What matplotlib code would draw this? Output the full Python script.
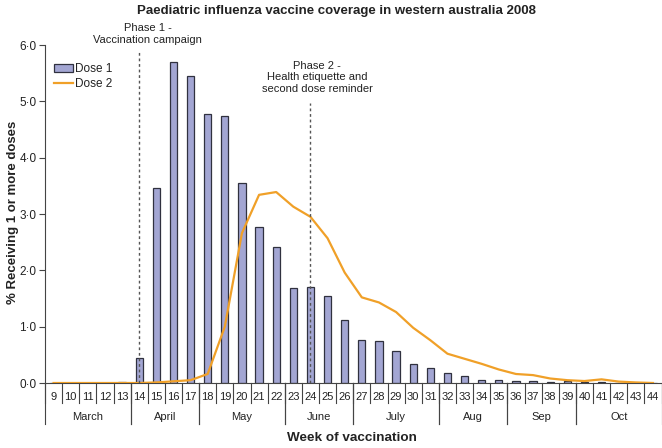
import matplotlib
matplotlib.use("Agg")
import matplotlib.pyplot as plt
from matplotlib.patches import Patch
from matplotlib.lines import Line2D

plt.rcParams['font.family'] = ['Liberation Sans', 'DejaVu Sans']

weeks = list(range(9, 45))
dose1 = [0, 0, 0, 0, 0.02, 0.45, 3.46, 5.70, 5.45, 4.78, 4.74, 3.55, 2.77, 2.42,
         1.68, 1.70, 1.54, 1.11, 0.77, 0.74, 0.56, 0.34, 0.26, 0.18, 0.12, 0.06,
         0.05, 0.035, 0.035, 0.02, 0.03, 0.01, 0.01, 0.005, 0, 0]
dose2 = [0, 0, 0, 0, 0, 0.0, 0.01, 0.03, 0.05, 0.16, 1.0, 2.66, 3.34, 3.39,
         3.13, 2.95, 2.57, 1.96, 1.52, 1.43, 1.26, 0.98, 0.76, 0.52, 0.43, 0.34,
         0.24, 0.16, 0.14, 0.08, 0.05, 0.035, 0.065, 0.025, 0.01, 0]
months = ["March", "April", "May", "June", "July", "Aug", "Sep", "Oct"]
month_start = [9, 14, 18, 23, 27, 32, 36, 40]
month_end = [13, 17, 22, 26, 31, 35, 39, 44]
yticks = [0, 1, 2, 3, 4, 5, 6]
phase_weeks = [14, 24]
phase_texts = ["Phase 1 -\nVaccination campaign",
               "Phase 2 -\nHealth etiquette and\nsecond dose reminder"]

W, H = 662, 448
fig = plt.figure(figsize=(W / 100, H / 100), dpi=100)
ax = fig.add_axes([45 / W, 1 - 383 / H, 616.5 / W, 338 / H])

txt = '#222222'
bar_fc = '#a3a6d3'
bar_ec = '#30313f'
line_c = '#f0a028'

idx = list(range(len(weeks)))
ax.bar(idx, dose1, width=0.42, color=bar_fc, edgecolor=bar_ec, linewidth=0.9, zorder=2)
ax.plot(idx, dose2, color=line_c, linewidth=1.6, zorder=3)

ax.set_xlim(-0.5, len(weeks) - 0.5)
ax.set_ylim(0, 6.0)
ax.set_xticks([])
ax.set_yticks(yticks)
ax.set_yticklabels([f"{v}\u00b70" for v in yticks], fontsize=8.5, color=txt)
ax.tick_params(axis='y', direction='out', length=4, width=0.8, color='#444444', pad=2)
for s in ['top', 'right']:
    ax.spines[s].set_visible(False)
for s in ['left', 'bottom']:
    ax.spines[s].set_color('#444444')
    ax.spines[s].set_linewidth(0.8)

# phase lines
tops = [5.876, 4.97]
for w, top in zip(phase_weeks, tops):
    i = weeks.index(w)
    ax.plot([i, i], [0, top], color='#555555', linestyle=(0, (2, 2)), linewidth=1.0, zorder=4)

fig.text(147.5 / W, 1 - 34 / H, phase_texts[0], ha='center', va='center',
         fontsize=8, color=txt, linespacing=1.2)
fig.text(317 / W, 1 - 77.5 / H, phase_texts[1], ha='center', va='center',
         fontsize=8, color=txt, linespacing=1.2)

# bottom category labels
xt = ax.get_xaxis_transform()
ah = 338.0
for i, w in enumerate(weeks):
    ax.text(i, -14 / ah, str(w), transform=xt, ha='center', va='center',
            fontsize=8, color=txt)
for k in range(len(weeks) + 1):
    ax.plot([k - 0.5, k - 0.5], [0, -20 / ah], transform=xt, color='#444444',
            linewidth=0.8, clip_on=False)
for m, s, e in zip(months, month_start, month_end):
    a = weeks.index(s) - 0.5
    b = weeks.index(e) + 0.5
    ax.text((a + b) / 2, -34 / ah, m, transform=xt, ha='center', va='center',
            fontsize=8, color=txt)
    for xx in (a, b):
        ax.plot([xx, xx], [0, -41 / ah], transform=xt, color='#444444',
                linewidth=0.8, clip_on=False)

fig.text(352 / W, 1 - 438 / H, "Week of vaccination", ha='center', va='center',
         fontsize=9.7, fontweight='bold', color=txt)
fig.text(13 / W, 1 - 212 / H, "% Receiving 1 or more doses", ha='center', va='center',
         rotation=90, fontsize=9.5, fontweight='bold', color=txt)
fig.text(336 / W, 1 - 11 / H, "Paediatric influenza vaccine coverage in western australia 2008",
         ha='center', va='center', fontsize=9.5, fontweight='bold', color=txt)

handles = [Patch(facecolor=bar_fc, edgecolor=bar_ec, linewidth=0.9),
           Line2D([0], [0], color=line_c, linewidth=1.6)]
ax.legend(handles, ["Dose 1", "Dose 2"], loc='upper left', bbox_to_anchor=(0.0, 0.975),
          frameon=False, fontsize=8.5, handlelength=1.6, handleheight=0.7,
          handletextpad=0.1, labelspacing=0.25, borderaxespad=0.4, labelcolor=txt)

fig.savefig("out.png", dpi=100)
